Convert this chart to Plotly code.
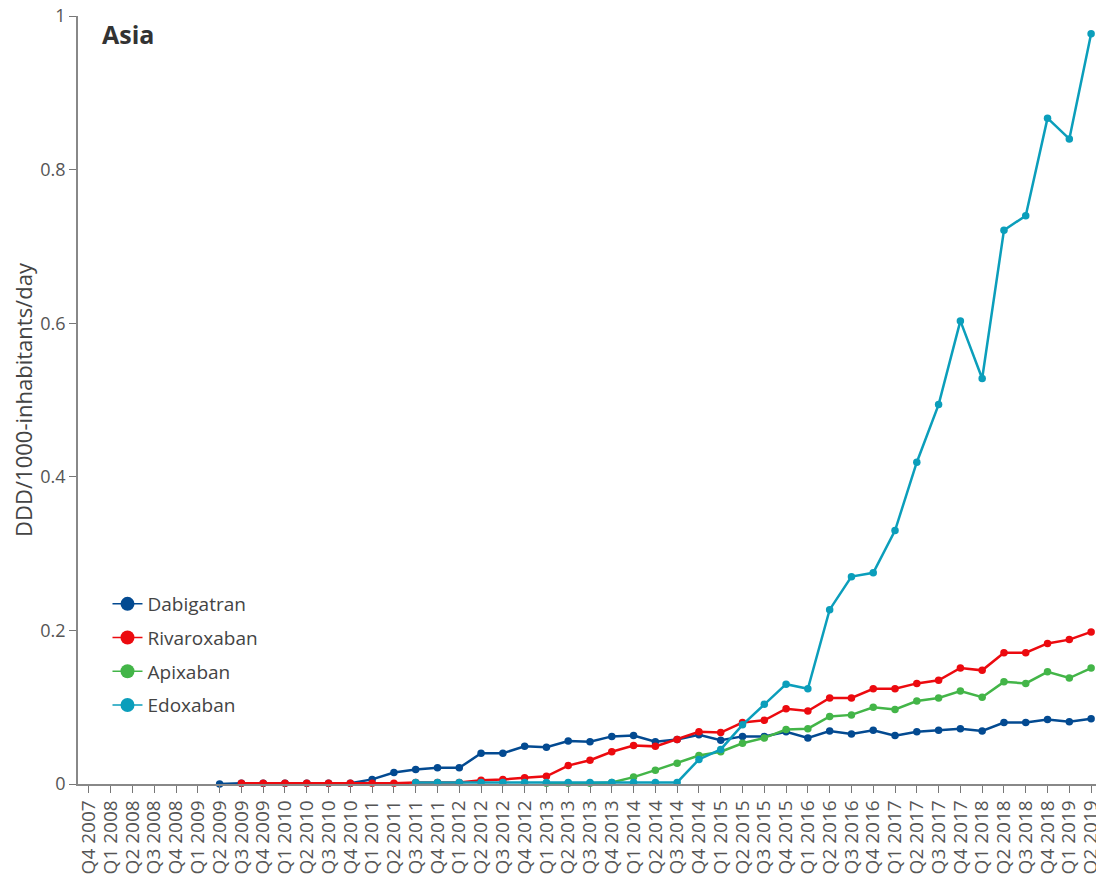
import plotly.graph_objects as go

quarters = ["Q4 2007"] + [f"Q{q} {y}" for y in range(2008, 2019) for q in range(1, 5)] + ["Q1 2019", "Q2 2019"]

N = None
dabigatran = [N]*6 + [0.0, 0.001, 0.001, 0.001, 0.001, 0.001, 0.001,
              0.006, 0.015, 0.019, 0.021, 0.021, 0.040, 0.040, 0.049, 0.048,
              0.056, 0.055, 0.062, 0.063, 0.055, 0.058, 0.064, 0.057, 0.062, 0.062,
              0.068, 0.060, 0.069, 0.065, 0.070, 0.063, 0.068, 0.070, 0.072, 0.069,
              0.080, 0.080, 0.084, 0.081, 0.085]
rivaroxaban = [N]*7 + [0.001]*8 + [0.002, 0.002, 0.002, 0.005, 0.006, 0.008, 0.010,
               0.024, 0.031, 0.042, 0.050, 0.049, 0.058, 0.068, 0.067, 0.080, 0.083,
               0.098, 0.095, 0.112, 0.112, 0.124, 0.124, 0.131, 0.135, 0.151, 0.148,
               0.171, 0.171, 0.183, 0.188, 0.198]
apixaban = [N]*21 + [0.001, 0.001, 0.001, 0.002, 0.009, 0.018, 0.027, 0.037, 0.042,
            0.053, 0.060, 0.071, 0.072, 0.088, 0.090, 0.100, 0.097, 0.108, 0.112,
            0.121, 0.113, 0.133, 0.131, 0.146, 0.138, 0.151]
edoxaban = [N]*15 + [0.002]*13 + [0.032, 0.045, 0.077, 0.104, 0.130, 0.124, 0.227,
            0.270, 0.275, 0.330, 0.419, 0.494, 0.603, 0.528, 0.721, 0.740, 0.867,
            0.840, 0.977]

series = [
    ("Dabigatran", dabigatran, "#034a91"),
    ("Rivaroxaban", rivaroxaban, "#ec0a0f"),
    ("Apixaban", apixaban, "#43b548"),
    ("Edoxaban", edoxaban, "#0b9ebb"),
]

fig = go.Figure()
for i, (name, vals, col) in enumerate(series):
    fig.add_trace(go.Scatter(
        x=quarters, y=vals, name=name, mode="lines+markers",
        line=dict(color=col, width=2.5),
        marker=dict(color=col, size=7.5),
        cliponaxis=False, showlegend=False,
    ))
# legend entries (thin line, large dot as in the reference legend)
for i, (name, vals, col) in enumerate(series):
    fig.add_trace(go.Scatter(
        x=[quarters[0]], y=[None], name=name, mode="lines+markers",
        line=dict(color=col, width=1.5),
        marker=dict(color=col, size=14),
        legendgroup=f"g{i}", showlegend=True, hoverinfo="skip",
    ))

font_family = "Open Sans, Noto Sans, sans-serif"
W, H = 1096, 866  # page body has an 8px margin
fig.update_layout(
    width=W, height=H,
    margin=dict(l=70, r=2, t=8, b=90, autoexpand=False),
    paper_bgcolor="white", plot_bgcolor="white",
    font=dict(family=font_family, color="#555555"),
    title=dict(text="<b>Asia</b>", x=94/W, xanchor="left", y=1-27/H, yanchor="middle",
               font=dict(size=25, color="#333333", family=font_family)),
    legend=dict(x=0.0288, y=0.2591, xanchor="left", yanchor="top",
                font=dict(size=19, color="#444444"), tracegroupgap=6,
                bgcolor="rgba(0,0,0,0)"),
    xaxis=dict(type="category", range=[-0.5, 46.5], tickmode="array", tickvals=quarters,
               ticktext=quarters, tickangle=-90, ticks="outside", ticklen=7, tickcolor="#777777",
               showline=True, linecolor="#888888", linewidth=1.5, showgrid=False, zeroline=False,
               tickfont=dict(size=19, color="#555555"), automargin=False,
               ticklabeloverflow="allow"),
    yaxis=dict(range=[0, 1], tickvals=[0, 0.2, 0.4, 0.6, 0.8, 1], ticktext=["0", "0.2", "0.4", "0.6", "0.8", "1"],
               ticks="outside", ticklen=7, tickcolor="#777777", showline=True, linecolor="#888888",
               linewidth=1.5, showgrid=False, zeroline=False, ticklabeloverflow="allow",
               tickfont=dict(size=18, color="#555555"), automargin=False,
               title=dict(text="DDD/1000-inhabitants/day", font=dict(size=22, color="#444444"), standoff=10)),
)

fig.write_html("out.html")
